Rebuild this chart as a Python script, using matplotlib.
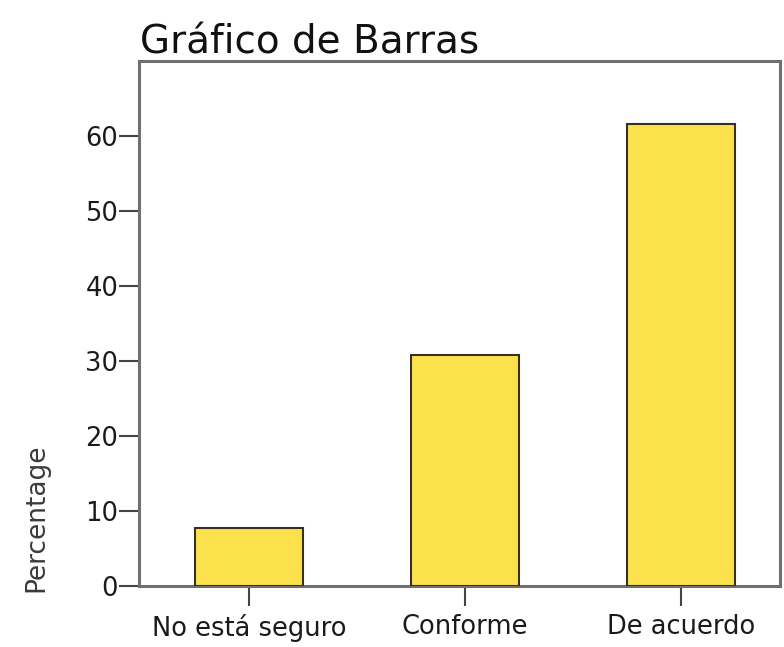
import matplotlib
matplotlib.use("Agg")
import matplotlib.pyplot as plt

categories = ["No está seguro", "Conforme", "De acuerdo"]
percentages = [7.7, 30.8, 61.5]
yticks = [0, 10, 20, 30, 40, 50, 60]

plt.rcParams['font.family'] = ['DejaVu Sans']

fig = plt.figure(figsize=(7.84, 6.47), dpi=100)
ax = fig.add_axes([139/784, 61/647, (780-139)/784, (586-60.5)/647])

x = list(range(len(categories)))
ax.bar(x, percentages, width=0.5, color="#FBE24C", edgecolor="#3a3020", linewidth=1.5, zorder=3)

ax.set_xlim(-0.51, 2.46)
ax.set_ylim(0, 70)
ax.set_yticks(yticks)
ax.set_xticks(x)
ax.set_xticklabels(categories)

for s in ax.spines.values():
    s.set_color("#707070")
    s.set_linewidth(2.2)

ax.tick_params(axis='both', direction='out', length=14.5, width=1.5, color="#444444",
               labelcolor="#1a1a1a", labelsize=18.5)
ax.tick_params(axis='y', pad=0.5)
ax.tick_params(axis='x', pad=6)

fig.text(140/784, 1 - 54/647, "Gráfico de Barras", fontsize=28, color="#111111",
         ha='left', va='baseline')
fig.text(49/784, 1 - 592/647, "Percentage", rotation=90, fontsize=19, color="#3a3a3a",
         ha='right', va='bottom')

fig.savefig("out.png", dpi=100)
